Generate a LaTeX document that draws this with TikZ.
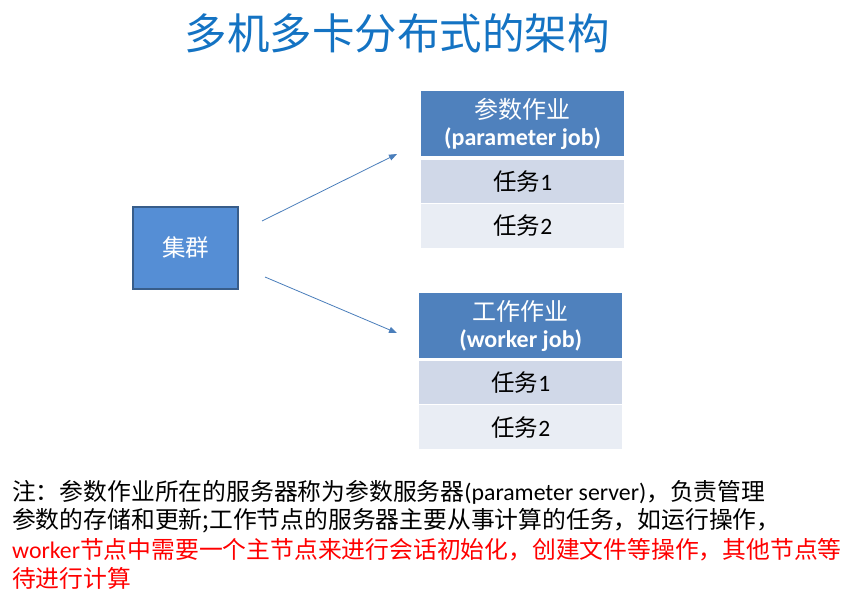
\documentclass[tikz,border=0pt]{standalone}
\usepackage{fontspec}
\setmainfont{Carlito}
\newfontfamily\cjk{Noto Sans CJK SC}
\usetikzlibrary{arrows.meta}
\definecolor{titleblue}{RGB}{20,115,195}
\definecolor{boxfill}{RGB}{85,142,213}
\definecolor{boxedge}{RGB}{56,93,138}
\definecolor{headblue}{RGB}{79,129,189}
\definecolor{rowa}{RGB}{208,216,232}
\definecolor{rowb}{RGB}{233,237,244}
\definecolor{arrowblue}{RGB}{74,126,187}
\begin{document}
\begin{tikzpicture}[x=1bp,y=-1bp,
  cell/.style={inner sep=0pt, minimum width=203bp, anchor=north west},
  head/.style={cell, fill=headblue, text=white, minimum height=65bp, align=center, font=\fontsize{24bp}{28bp}\selectfont},
  rowone/.style={cell, fill=rowa, minimum height=43bp, font=\fontsize{23.5bp}{26bp}\selectfont},
  rowtwo/.style={cell, fill=rowb, minimum height=44bp, font=\fontsize{23.5bp}{26bp}\selectfont},
  link/.style={draw=arrowblue, line width=0.8bp, -{Triangle[length=8bp,width=6bp]}},
  note/.style={anchor=west, inner sep=0pt, font=\fontsize{23.8bp}{26bp}\selectfont}
]
\useasboundingbox (0,0) rectangle (864,598);
\fill[white] (0,0) rectangle (864,598);
\node[text=titleblue, font=\cjk\fontsize{42.5bp}{48bp}\selectfont] (title) at (397,33) {多机多卡分布式的架构};

\node[draw=boxedge, line width=2.5bp, fill=boxfill, minimum width=105bp, minimum height=82bp, text=white, font=\cjk\fontsize{23.5bp}{26bp}\selectfont] (cluster) at (185.5,248) {集群};

% parameter job
\node[head] (ph) at (421,91) {{\cjk 参数作业}\\[-1bp]\textbf{(parameter job)}};
\node[rowone] (p1) at (421,160) {\raisebox{2bp}{\cjk 任务\textrm{1}}};
\node[rowtwo] (p2) at (421,203.5) {\raisebox{2bp}{\cjk 任务\textrm{2}}};

% worker job
\node[head] (wh) at (419,293) {{\cjk 工作作业}\\[-1bp]\textbf{(worker job)}};
\node[rowone] (w1) at (419,361) {\raisebox{2bp}{\cjk 任务\textrm{1}}};
\node[rowtwo] (w2) at (419,405) {\raisebox{2bp}{\cjk 任务\textrm{2}}};

\coordinate (a1s) at (262,221);
\coordinate (a1e) at (397,154);
\coordinate (a2s) at (265,277);
\coordinate (a2e) at (397,333);
\draw[link] (a1s) -- (a1e);
\draw[link] (a2s) -- (a2e);

\node[note] (n1) at (12,492) {{\cjk 注：参数作业所在的服务器称为参数服务器}(parameter server){\cjk ，负责管理}};
\node[note] (n2) at (12,521) {\cjk 参数的存储和更新;工作节点的服务器主要从事计算的任务，如运行操作，};
\node[note, text=red] (n3) at (12,550) {worker{\cjk 节点中需要一个主节点来进行会话初始化，创建文件等操作，其他节点等}};
\node[note, text=red] (n4) at (12,578) {\cjk 待进行计算};
\end{tikzpicture}
\end{document}
